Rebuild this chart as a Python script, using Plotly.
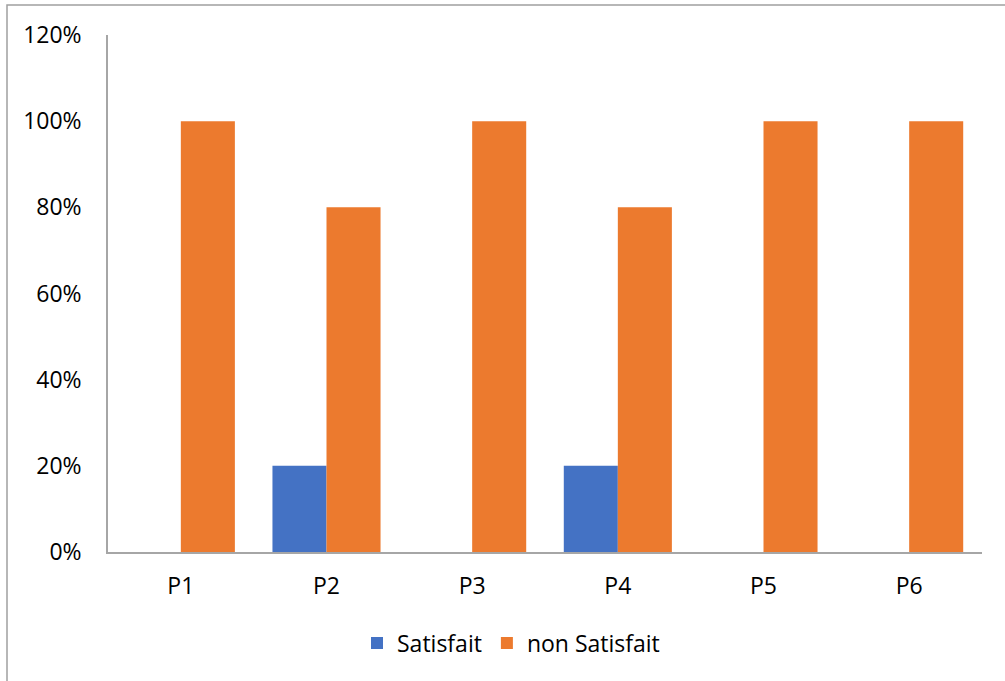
import plotly.graph_objects as go

categories = ["P1", "P2", "P3", "P4", "P5", "P6"]
satisfait = [0.0, 0.2, 0.0, 0.2, 0.0, 0.0]
non_satisfait = [1.0, 0.8, 1.0, 0.8, 1.0, 1.0]
y_ticks = [0, 0.2, 0.4, 0.6, 0.8, 1.0, 1.2]

W, H = 1005, 681
L, R, T, B = 108, 23, 35, 129
pw, ph = W - L - R, H - T - B

fig = go.Figure()
fig.add_trace(go.Bar(x=categories, y=satisfait, name="Satisfait",
                     marker=dict(color="#4472C4", line=dict(width=0))))
fig.add_trace(go.Bar(x=categories, y=non_satisfait, name="non Satisfait",
                     marker=dict(color="#EC7A2E", line=dict(width=0))))

font = "Open Sans, Lato, sans-serif"
fig.update_layout(
    width=W, height=H,
    margin=dict(l=L, r=R, t=T, b=B, pad=0),
    paper_bgcolor="white", plot_bgcolor="white",
    barmode="group", bargap=0.258, bargroupgap=0,
    font=dict(family=font, size=22.5, color="#000000"),
    showlegend=True,
    legend=dict(orientation="h", x=(511 - L) / pw, xanchor="center",
                y=-(643 - (T + ph)) / ph, yanchor="middle",
                font=dict(size=23), itemsizing="constant",
                bgcolor="rgba(0,0,0,0)"),
    xaxis=dict(showgrid=False, showline=True, linecolor="#A6A6A6", linewidth=1.5,
               ticks="", ticklabelstandoff=13, tickfont=dict(size=23)),
    yaxis=dict(range=[0, 1.2], tickvals=y_ticks, tickformat=".0%",
               showgrid=False, zeroline=False, showline=True,
               linecolor="#A6A6A6", linewidth=1.5, ticks="",
               ticklabelstandoff=20, tickfont=dict(size=23)),
    shapes=[dict(type="rect", xref="paper", yref="paper",
                 x0=(7 - L) / pw, x1=2, y0=-2, y1=(T + ph - 5) / ph,
                 line=dict(color="#A0A0A0", width=1.5), fillcolor="rgba(0,0,0,0)")],
)

fig.write_html("out.html", config={"displayModeBar": False},
               post_script="document.body.style.margin='0';document.body.style.padding='0';")
